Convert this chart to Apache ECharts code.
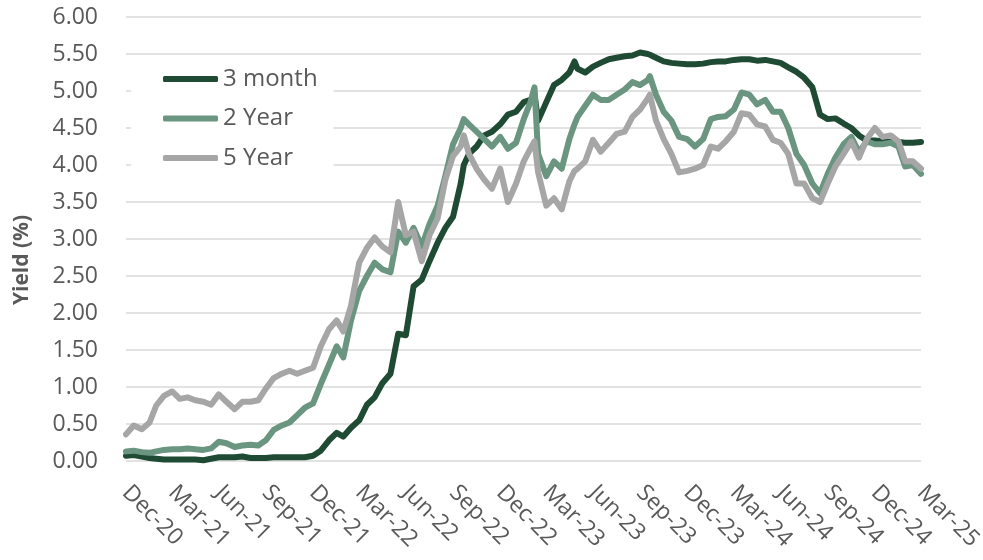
<!DOCTYPE html>
<html>
<head>
<meta charset="utf-8">
<script src="https://cdn.jsdelivr.net/npm/echarts@6/dist/echarts.min.js"></script>
<style>
  html, body { margin: 0; padding: 0; background: #ffffff; }
  #chart { width: 983px; height: 560px; }
</style>
</head>
<body>
<div id="chart"></div>
<script>
// Observation dates (roughly semi-monthly, with a few extra points at turning points)
const dates = [
  '2020-12-31',
  '2021-01-15','2021-01-31','2021-02-15','2021-02-28','2021-03-15','2021-03-31',
  '2021-04-15','2021-04-30','2021-05-15','2021-05-31','2021-06-15','2021-06-30',
  '2021-07-15','2021-07-31','2021-08-15','2021-08-31','2021-09-15','2021-09-30',
  '2021-10-15','2021-10-31','2021-11-15','2021-11-30','2021-12-15','2021-12-31',
  '2022-01-15','2022-01-31','2022-02-15','2022-02-28','2022-03-15','2022-03-31',
  '2022-04-15','2022-04-30','2022-05-15','2022-05-31','2022-06-15','2022-06-30',
  '2022-07-15','2022-07-31','2022-08-15','2022-08-31','2022-09-15','2022-09-30',
  '2022-10-15','2022-10-21','2022-10-31','2022-11-15','2022-11-30','2022-12-15','2022-12-31',
  '2023-01-15','2023-01-31','2023-02-15','2023-02-28','2023-03-08','2023-03-15','2023-03-31',
  '2023-04-15','2023-04-30','2023-05-15','2023-05-25','2023-05-31','2023-06-15','2023-06-30',
  '2023-07-15','2023-07-31','2023-08-15','2023-08-31','2023-09-15','2023-09-30',
  '2023-10-15','2023-10-19','2023-10-31','2023-11-15','2023-11-30','2023-12-15','2023-12-31',
  '2024-01-15','2024-01-31','2024-02-15','2024-02-29','2024-03-15','2024-03-31',
  '2024-04-15','2024-04-30','2024-05-15','2024-05-31','2024-06-15','2024-06-30',
  '2024-07-15','2024-07-31','2024-08-15','2024-08-31','2024-09-15','2024-09-30',
  '2024-10-15','2024-10-31','2024-11-15','2024-11-30','2024-12-15','2024-12-31',
  '2025-01-15','2025-01-31','2025-02-15','2025-02-28','2025-03-15','2025-03-31'
];

// Yields in percent, one value per date
const threeMonth = [
  0.07,
  0.08,0.06,0.04,0.03,0.02,0.02, 0.02,0.02,0.02,0.01,0.03,0.05,
  0.05,0.05,0.06,0.04,0.04,0.04, 0.05,0.05,0.05,0.05,0.05,0.07,
  0.14,0.28,0.38,0.33,0.45,0.55, 0.76,0.86,1.05,1.18,1.72,1.70,
  2.36,2.45,2.70,2.95,3.15,3.30, 3.75,4.00,4.15,4.25,4.40,4.45,4.55,
  4.68,4.72,4.85,4.88,4.95,4.60,4.85, 5.08,5.15,5.25,5.40,5.30,5.25,5.33,
  5.38,5.43,5.45,5.47,5.48,5.52, 5.50,5.49,5.45,5.40,5.38,5.37,5.36,
  5.36,5.37,5.39,5.40,5.40,5.42, 5.43,5.43,5.41,5.42,5.40,5.38,
  5.32,5.26,5.18,5.05,4.68,4.62, 4.63,4.56,4.50,4.40,4.33,4.33,
  4.32,4.31,4.31,4.30,4.30,4.31
];

const twoYear = [
  0.13,
  0.14,0.12,0.11,0.13,0.15,0.16, 0.16,0.17,0.16,0.15,0.17,0.26,
  0.24,0.19,0.21,0.22,0.21,0.28, 0.42,0.48,0.52,0.62,0.72,0.78,
  1.04,1.30,1.55,1.40,1.90,2.30, 2.50,2.68,2.59,2.55,3.10,2.95,
  3.15,2.90,3.20,3.45,3.85,4.28, 4.50,4.62,4.55,4.45,4.35,4.25,4.38,
  4.22,4.30,4.62,4.85,5.05,4.15,3.85, 4.05,3.95,4.35,4.55,4.65,4.80,4.95,
  4.88,4.88,4.95,5.02,5.12,5.08, 5.15,5.20,4.95,4.72,4.60,4.38,4.35,
  4.25,4.35,4.62,4.65,4.66,4.75, 4.98,4.95,4.82,4.88,4.72,4.72,
  4.50,4.15,4.00,3.75,3.62,3.88, 4.10,4.28,4.38,4.17,4.32,4.28,
  4.28,4.30,4.25,3.98,4.00,3.88
];

const fiveYear = [
  0.36,
  0.48,0.43,0.52,0.75,0.88,0.94, 0.84,0.86,0.82,0.80,0.76,0.90,
  0.80,0.70,0.80,0.80,0.82,0.98, 1.12,1.18,1.22,1.18,1.22,1.26,
  1.55,1.78,1.90,1.75,2.10,2.68, 2.88,3.02,2.90,2.82,3.50,3.05,
  3.10,2.70,3.05,3.28,3.80,4.12, 4.25,4.40,4.15,3.95,3.80,3.68,3.95,
  3.50,3.75,4.05,4.22,4.32,3.90,3.45, 3.55,3.40,3.78,3.92,3.95,4.05,4.34,
  4.18,4.30,4.42,4.45,4.65,4.75, 4.90,4.95,4.60,4.35,4.15,3.90,3.92,
  3.95,4.00,4.25,4.22,4.32,4.45, 4.70,4.68,4.55,4.52,4.34,4.30,
  4.15,3.75,3.75,3.55,3.50,3.75, 3.98,4.15,4.32,4.10,4.35,4.50,
  4.38,4.40,4.32,4.05,4.05,3.95
];

// Quarterly tick dates on the horizontal axis
const tickDates = [
  '2020-12-31','2021-03-31','2021-06-30','2021-09-30','2021-12-31',
  '2022-03-31','2022-06-30','2022-09-30','2022-12-31',
  '2023-03-31','2023-06-30','2023-09-30','2023-12-31',
  '2024-03-31','2024-06-30','2024-09-30','2024-12-31','2025-03-31'
];

const seriesNames = ['3 month', '2 Year', '5 Year'];
const seriesColors = ['#1f4b35', '#6a9580', '#a6a6a6'];
const MONTHS = ['Jan','Feb','Mar','Apr','May','Jun','Jul','Aug','Sep','Oct','Nov','Dec'];
const FONT = 'Open Sans';

// Dates become UTC millisecond timestamps on a continuous value axis
const toTime = (s) => Date.parse(s + 'T00:00:00Z');
const toPairs = (vals) => dates.map((d, i) => [toTime(d), vals[i]]);
const tickValues = tickDates.map(toTime);

const chart = echarts.init(document.getElementById('chart'), null, { renderer: 'canvas' });

const option = {
  animation: false,
  backgroundColor: '#ffffff',
  textStyle: { fontFamily: FONT },
  grid: {
    left: 126, right: 62, top: 17, bottom: 99,
    containLabel: false,
    outerBoundsMode: 'none'
  },
  legend: {
    orient: 'vertical',
    left: 131, top: 59,
    padding: [8, 16, 8, 32],
    backgroundColor: '#ffffff',
    itemWidth: 55, itemHeight: 6, itemGap: 15.5,
    icon: 'roundRect',
    data: seriesNames,
    textStyle: { color: '#595959', fontSize: 24, lineHeight: 24, fontFamily: FONT }
  },
  xAxis: {
    type: 'value',
    min: tickValues[0],
    max: tickValues[tickValues.length - 1],
    axisLine: { show: false },
    axisTick: { show: false },
    splitLine: { show: false },
    axisLabel: {
      customValues: tickValues,
      rotate: -45,
      margin: 28,
      color: '#595959',
      fontSize: 23,
      fontFamily: FONT,
      hideOverlap: false,
      formatter: (value) => {
        const d = new Date(value);
        return MONTHS[d.getUTCMonth()] + '-' + String(d.getUTCFullYear()).slice(2);
      }
    }
  },
  yAxis: {
    type: 'value',
    min: 0, max: 6, interval: 0.5,
    axisLine: { show: false },
    axisTick: { show: false },
    splitLine: { lineStyle: { color: '#d9d9d9', width: 1.5 } },
    axisLabel: {
      color: '#595959',
      fontSize: 23,
      fontFamily: FONT,
      margin: 28,
      formatter: (v) => v.toFixed(2)
    }
  },
  graphic: [{
    type: 'text',
    x: 22, y: 260,
    rotation: Math.PI / 2,
    style: {
      text: 'Yield (%)',
      fill: '#595959',
      font: 'bold 21px "' + FONT + '"',
      align: 'center',
      verticalAlign: 'middle'
    }
  }],
  series: [threeMonth, twoYear, fiveYear].map((vals, i) => ({
    name: seriesNames[i],
    type: 'line',
    data: toPairs(vals),
    showSymbol: false,
    symbol: 'none',
    color: seriesColors[i],
    lineStyle: { width: 6, color: seriesColors[i], cap: 'round', join: 'round' },
    z: 2 + i
  }))
};

chart.setOption(option);
</script>
</body>
</html>
